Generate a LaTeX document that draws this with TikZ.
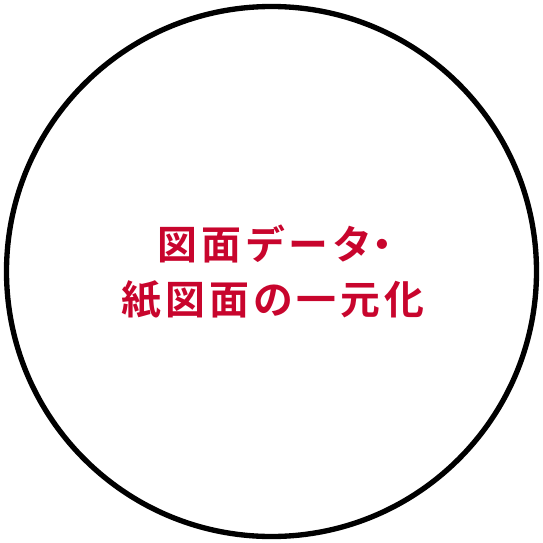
\documentclass[tikz,border=0pt]{standalone}
\usepackage{fontspec}
\newfontfamily\cjk[LetterSpace=10]{Noto Sans CJK JP Bold}
\definecolor{labelred}{RGB}{200,5,45}
\tikzset{ring/.style={black, line width=1.6mm}}
\tikzset{caption/.style={text=labelred, font=\cjk\fontsize{34}{47}\selectfont, align=center}}
\newcommand{\halfdot}{\kern-0.25em・\kern-0.35em\relax}
\begin{document}
\begin{tikzpicture}[x=0.3mm, y=-0.3mm]
	% Frame
	\useasboundingbox (0,0) rectangle (543,543);
	
	% Circle
	\draw[ring] (271.5,271.5) circle (265*0.3mm);
	
	% Text
	\node[caption] (label) at (273,272) {図面データ\halfdot\\紙図面の一元化};
\end{tikzpicture}
\end{document}
